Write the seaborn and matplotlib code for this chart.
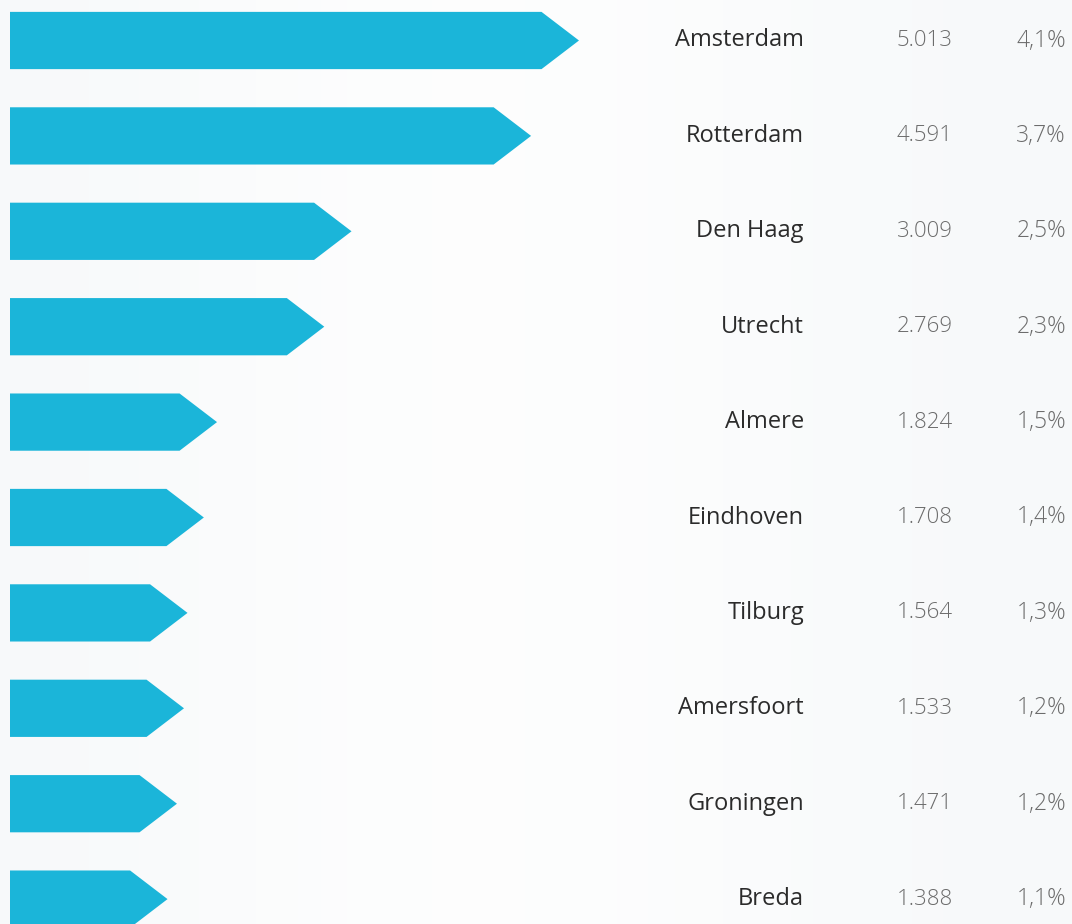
import numpy as np
import pandas as pd
import matplotlib
matplotlib.use("Agg")
import matplotlib.pyplot as plt
from matplotlib.patches import Polygon
import seaborn as sns

# Gemeenten met hun aantal en aandeel
cities = ["Amsterdam", "Rotterdam", "Den Haag", "Utrecht", "Almere",
          "Eindhoven", "Tilburg", "Amersfoort", "Groningen", "Breda"]
counts = [5013, 4591, 3009, 2769, 1824, 1708, 1564, 1533, 1471, 1388]
shares = [4.1, 3.7, 2.5, 2.3, 1.5, 1.4, 1.3, 1.2, 1.2, 1.1]

BAR_COLOR = "#1bb5d9"
NAME_COLOR = "#2b2b2b"
NUM_COLOR = "#6c6c6c"
TIP = 330  # arrow head length in data units

sns.set_theme(style="white")
plt.rcParams["font.family"] = ["Open Sans", "DejaVu Sans"]

df = pd.DataFrame({"stad": cities, "aantal": counts, "aandeel": shares})

W, H = 1072, 924
fig = plt.figure(figsize=(W / 100, H / 100), dpi=100)
ax = fig.add_axes([0, 0, 1, 1])

# soft background wash: faint on the left and right edges, white in the middle
xs = np.linspace(0, 1, 512)
X = np.tile(xs, (8, 1))
shade = 0.028 * np.exp(-((X - 0.0) / 0.3) ** 2) + 0.03 * np.exp(-((X - 1.0) / 0.4) ** 2)
img = 1.0 - shade[..., None] * np.array([1.0, 0.75, 0.6])
img = np.clip(img, 0, 1)

sns.barplot(data=df, x="aantal", y="stad", orient="h", color=BAR_COLOR,
            width=0.6, saturation=1, ax=ax, zorder=2)

x_per_px = 1 / 0.1135
ax.set_xlim(-10 * x_per_px, (W - 10) * x_per_px)
pitch = 95.4
ax.set_ylim((H - 40.5) / pitch, -40.5 / pitch)

ax.imshow(img, extent=[ax.get_xlim()[0], ax.get_xlim()[1], ax.get_ylim()[0], ax.get_ylim()[1]],
          aspect="auto", zorder=0, interpolation="bilinear")

# turn each rectangle into an arrow shape
for p in list(ax.patches):
    x0, y0 = p.get_x(), p.get_y()
    w, h = p.get_width(), p.get_height()
    end = x0 + w
    poly = Polygon([[x0, y0], [end - TIP, y0], [end, y0 + h / 2],
                    [end - TIP, y0 + h], [x0, y0 + h]],
                   closed=True, facecolor=BAR_COLOR, edgecolor="none", zorder=2)
    p.remove()
    ax.add_patch(poly)

name_x = (804 - 10) * x_per_px
num_x = (953 - 10) * x_per_px
pct_x = (1066 - 10) * x_per_px
for i, (c, n, s) in enumerate(zip(cities, counts, shares)):
    ax.text(name_x, i, c, ha="right", va="center", fontsize=17, color=NAME_COLOR, zorder=3)
    ax.text(num_x, i, f"{n:,}".replace(",", "."), ha="right", va="center",
            fontsize=16, color=NUM_COLOR, fontweight="light", zorder=3)
    ax.text(pct_x, i, f"{s:.1f}%".replace(".", ","), ha="right", va="center",
            fontsize=16.5, color=NUM_COLOR, fontweight="light", zorder=3)

ax.set_xlabel("")
ax.set_ylabel("")
ax.set_xticks([])
ax.set_yticks([])
for sp in ax.spines.values():
    sp.set_visible(False)

fig.savefig("out.png", dpi=100)
